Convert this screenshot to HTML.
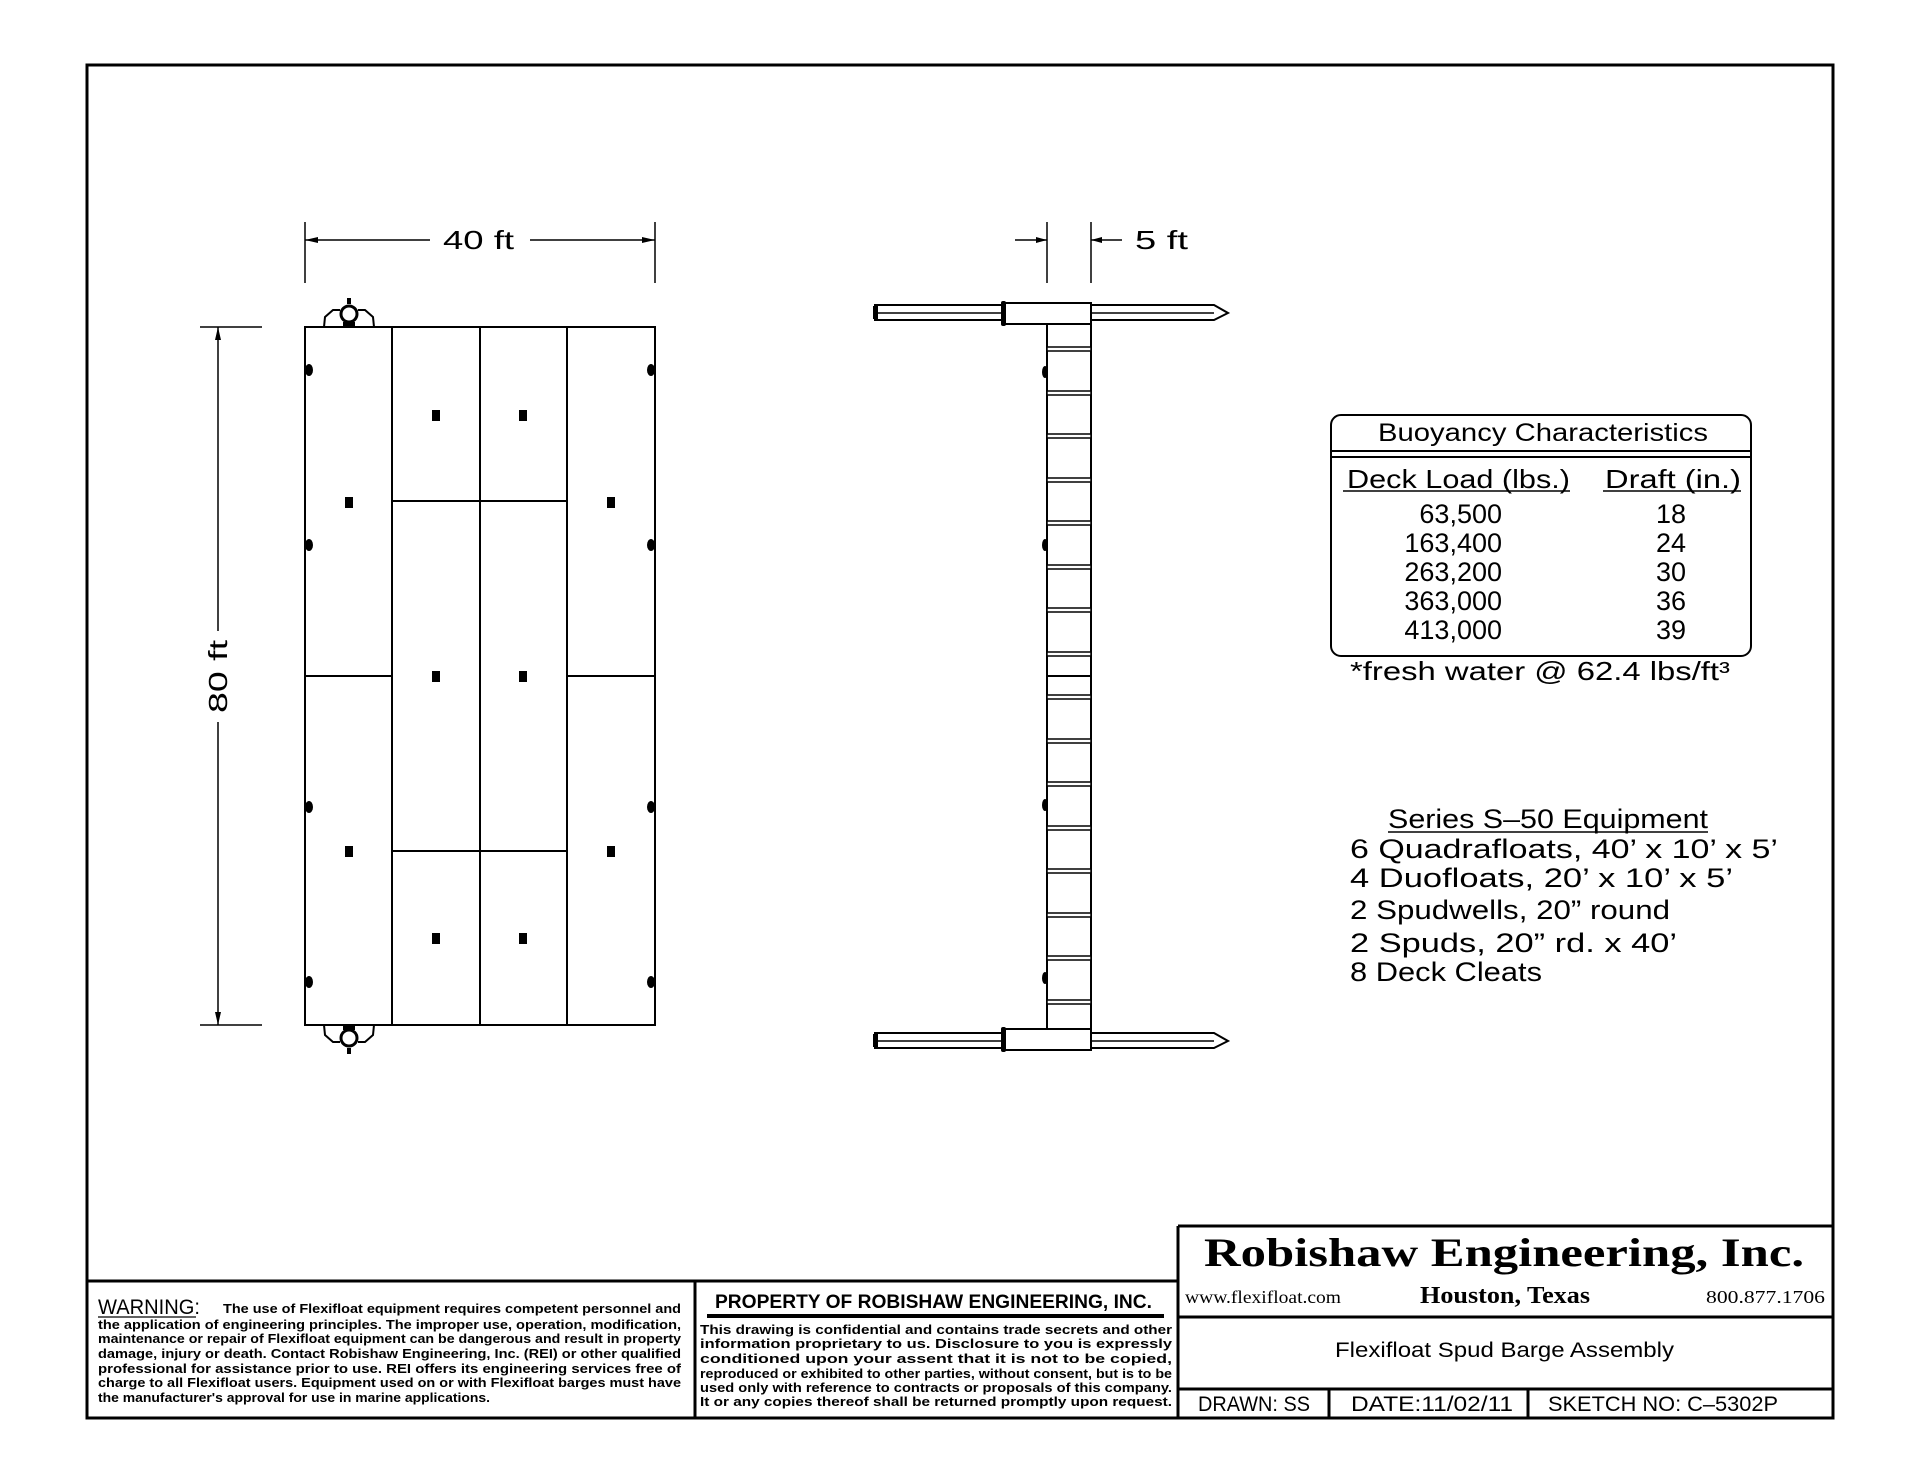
<!DOCTYPE html>
<html><head><meta charset="utf-8"><style>
html,body{margin:0;padding:0;background:#fff;}
svg{display:block;}
text{font-family:"Liberation Sans",sans-serif;fill:#000;}
</style></head><body>
<svg width="1920" height="1484" viewBox="0 0 1920 1484" xmlns="http://www.w3.org/2000/svg">
<rect x="0" y="0" width="1920" height="1484" fill="#fff"/>
<rect x="87" y="65" width="1746" height="1353" fill="none" stroke="#000" stroke-width="3"/>

<!-- ===== PLAN VIEW ===== -->
<g stroke="#000" stroke-width="2" fill="none">
<rect x="305" y="327" width="350" height="698"/>
<line x1="392" y1="327" x2="392" y2="1025"/>
<line x1="480" y1="327" x2="480" y2="1025"/>
<line x1="567" y1="327" x2="567" y2="1025"/>
<line x1="305" y1="676" x2="392" y2="676"/>
<line x1="567" y1="676" x2="655" y2="676"/>
<line x1="392" y1="501" x2="567" y2="501"/>
<line x1="392" y1="851" x2="567" y2="851"/>
<line x1="305" y1="222" x2="305" y2="283" stroke-width="1.5"/>
<line x1="655" y1="222" x2="655" y2="283" stroke-width="1.5"/>
<line x1="305" y1="240" x2="430" y2="240" stroke-width="1.5"/>
<line x1="530" y1="240" x2="655" y2="240" stroke-width="1.5"/>
<line x1="200" y1="327" x2="262" y2="327" stroke-width="1.5"/>
<line x1="200" y1="1025" x2="262" y2="1025" stroke-width="1.5"/>
<line x1="218" y1="327" x2="218" y2="631" stroke-width="1.5"/>
<line x1="218" y1="722" x2="218" y2="1025" stroke-width="1.5"/>
</g>
<g fill="#000">
<polygon points="305,240 318,237 318,243"/>
<polygon points="655,240 642,237 642,243"/>
<polygon points="218,327 215,340 221,340"/>
<polygon points="218,1025 215,1012 221,1012"/>
</g>
<text x="443" y="249" font-size="26" textLength="71" lengthAdjust="spacingAndGlyphs">40  ft</text>
<text transform="translate(227,713) rotate(-90)" font-size="26" textLength="73" lengthAdjust="spacingAndGlyphs">80  ft</text>
<g fill="#000">
<rect x="345" y="497" width="8" height="11"/><rect x="607" y="497" width="8" height="11"/>
<rect x="345" y="846" width="8" height="11"/><rect x="607" y="846" width="8" height="11"/>
<rect x="432" y="410" width="8" height="11"/><rect x="519" y="410" width="8" height="11"/>
<rect x="432" y="671" width="8" height="11"/><rect x="519" y="671" width="8" height="11"/>
<rect x="432" y="933" width="8" height="11"/><rect x="519" y="933" width="8" height="11"/>
</g>
<g fill="#000">
<ellipse cx="309" cy="370" rx="4" ry="6"/><ellipse cx="309" cy="545" rx="4" ry="6"/>
<ellipse cx="309" cy="807" rx="4" ry="6"/><ellipse cx="309" cy="982" rx="4" ry="6"/>
<ellipse cx="651" cy="370" rx="4" ry="6"/><ellipse cx="651" cy="545" rx="4" ry="6"/>
<ellipse cx="651" cy="807" rx="4" ry="6"/><ellipse cx="651" cy="982" rx="4" ry="6"/>
</g>
<g stroke="#000" stroke-width="2" fill="none">
<path d="M324,327 L325,317 L333,310 L340,310 M374,327 L373,317 L365,310 L358,310"/>
<circle cx="349" cy="314" r="8" stroke-width="3"/>
<path d="M324,1025 L325,1035 L333,1042 L340,1042 M374,1025 L373,1035 L365,1042 L358,1042"/>
<circle cx="349" cy="1038" r="8" stroke-width="3"/>
</g>
<g fill="#000"><rect x="347" y="298" width="4" height="6"/><rect x="343" y="322" width="12" height="5"/>
<rect x="347" y="1048" width="4" height="6"/><rect x="343" y="1025" width="12" height="5"/></g>

<!-- ===== SIDE VIEW ===== -->
<g stroke="#000" stroke-width="2" fill="none">
<line x1="1047" y1="222" x2="1047" y2="283" stroke-width="1.5"/>
<line x1="1091" y1="222" x2="1091" y2="283" stroke-width="1.5"/>
<line x1="1015" y1="240" x2="1047" y2="240" stroke-width="1.5"/>
<line x1="1091" y1="240" x2="1122" y2="240" stroke-width="1.5"/>
<path d="M875,305 L1214,305 L1228,313 L1214,320 L875,320 Z"/>
<line x1="875" y1="313" x2="1214" y2="313" stroke-width="1.5"/>
<rect x="1003" y="303" width="88" height="21" fill="#fff"/>
<path d="M875,1033 L1214,1033 L1228,1041 L1214,1048 L875,1048 Z"/>
<line x1="875" y1="1041" x2="1214" y2="1041" stroke-width="1.5"/>
<rect x="1003" y="1029" width="88" height="21" fill="#fff"/>
<rect x="1047" y="324" width="44" height="705"/>
<line x1="1047" y1="676" x2="1091" y2="676"/>
</g>
<g fill="#000">
<polygon points="1047,240 1036,237 1036,243"/>
<polygon points="1091,240 1102,237 1102,243"/>
<rect x="873" y="306" width="5" height="13"/><rect x="873" y="1034" width="5" height="13"/>
<rect x="1001" y="301" width="5" height="25" rx="2"/><rect x="1001" y="1027" width="5" height="25" rx="2"/>
<ellipse cx="1045" cy="372" rx="3" ry="6"/><ellipse cx="1045" cy="545" rx="3" ry="6"/>
<ellipse cx="1045" cy="805" rx="3" ry="6"/><ellipse cx="1045" cy="978" rx="3" ry="6"/>
</g>
<g fill="#fff" stroke="#000" stroke-width="1.5">
<rect x="1047" y="347" width="44" height="4"/><rect x="1047" y="391" width="44" height="4"/>
<rect x="1047" y="434" width="44" height="4"/><rect x="1047" y="478" width="44" height="4"/>
<rect x="1047" y="521" width="44" height="4"/><rect x="1047" y="565" width="44" height="4"/>
<rect x="1047" y="608" width="44" height="4"/><rect x="1047" y="652" width="44" height="4"/>
<rect x="1047" y="695" width="44" height="4"/><rect x="1047" y="739" width="44" height="4"/>
<rect x="1047" y="782" width="44" height="4"/><rect x="1047" y="826" width="44" height="4"/>
<rect x="1047" y="869" width="44" height="4"/><rect x="1047" y="913" width="44" height="4"/>
<rect x="1047" y="956" width="44" height="4"/><rect x="1047" y="1000" width="44" height="4"/>
</g>
<text x="1135" y="249" font-size="26" textLength="53" lengthAdjust="spacingAndGlyphs">5  ft</text>

<!-- ===== BUOYANCY TABLE ===== -->
<rect x="1331" y="415" width="420" height="241" rx="10" fill="none" stroke="#000" stroke-width="2"/>
<line x1="1331" y1="451" x2="1751" y2="451" stroke="#000" stroke-width="2"/>
<line x1="1331" y1="457" x2="1751" y2="457" stroke="#000" stroke-width="2"/>
<text x="1378" y="441" font-size="25" textLength="330" lengthAdjust="spacingAndGlyphs">Buoyancy Characteristics</text>
<text x="1347" y="488" font-size="26" textLength="223" lengthAdjust="spacingAndGlyphs">Deck Load (lbs.)</text>
<line x1="1343" y1="491" x2="1570" y2="491" stroke="#000" stroke-width="1.5"/>
<text x="1605" y="488" font-size="26" textLength="136" lengthAdjust="spacingAndGlyphs">Draft (in.)</text>
<line x1="1603" y1="491" x2="1741" y2="491" stroke="#000" stroke-width="1.5"/>
<g font-size="27" text-anchor="end">
<text x="1502" y="523">63,500</text><text x="1502" y="552">163,400</text>
<text x="1502" y="581">263,200</text><text x="1502" y="610">363,000</text>
<text x="1502" y="639">413,000</text>
</g>
<g font-size="27" text-anchor="middle">
<text x="1671" y="523">18</text><text x="1671" y="552">24</text>
<text x="1671" y="581">30</text><text x="1671" y="610">36</text>
<text x="1671" y="639">39</text>
</g>
<text x="1350" y="680" font-size="26" textLength="380" lengthAdjust="spacingAndGlyphs">*fresh water @ 62.4 lbs/ft³</text>

<!-- ===== EQUIPMENT ===== -->
<text x="1388" y="828" font-size="27" textLength="320" lengthAdjust="spacingAndGlyphs">Series S–50 Equipment</text>
<line x1="1388" y1="832" x2="1708" y2="832" stroke="#000" stroke-width="1.5"/>
<g font-size="27">
<text x="1350" y="858" textLength="428" lengthAdjust="spacingAndGlyphs">6 Quadrafloats, 40’ x 10’ x 5’</text>
<text x="1350" y="887" textLength="383" lengthAdjust="spacingAndGlyphs">4 Duofloats, 20’ x 10’ x 5’</text>
<text x="1350" y="919" textLength="320" lengthAdjust="spacingAndGlyphs">2 Spudwells, 20” round</text>
<text x="1350" y="952" textLength="327" lengthAdjust="spacingAndGlyphs">2 Spuds, 20” rd. x 40’</text>
<text x="1350" y="981" textLength="192" lengthAdjust="spacingAndGlyphs">8 Deck Cleats</text>
</g>

<!-- ===== TITLE BLOCK ===== -->
<g stroke="#000" stroke-width="3" fill="none">
<line x1="87" y1="1281" x2="1178" y2="1281"/>
<line x1="1178" y1="1226" x2="1833" y2="1226"/>
<line x1="1178" y1="1226" x2="1178" y2="1418"/>
<line x1="695" y1="1281" x2="695" y2="1418"/>
<line x1="1178" y1="1317" x2="1833" y2="1317"/>
<line x1="1178" y1="1389" x2="1833" y2="1389"/>
<line x1="1329" y1="1389" x2="1329" y2="1418"/>
<line x1="1528" y1="1389" x2="1528" y2="1418"/>
<line x1="707" y1="1316" x2="1164" y2="1316" stroke-width="4"/>
</g>
<text x="1204" y="1266" font-weight="bold" font-size="40" textLength="600" lengthAdjust="spacingAndGlyphs" style="font-family:'Liberation Serif',serif">Robishaw Engineering, Inc.</text>
<text x="1185" y="1303" font-size="18" textLength="156" lengthAdjust="spacingAndGlyphs" style="font-family:'Liberation Serif',serif">www.flexifloat.com</text>
<text x="1420" y="1303" font-size="24" font-weight="bold" textLength="170" lengthAdjust="spacingAndGlyphs" style="font-family:'Liberation Serif',serif">Houston, Texas</text>
<text x="1706" y="1303" font-size="18" textLength="119" lengthAdjust="spacingAndGlyphs" style="font-family:'Liberation Serif',serif">800.877.1706</text>
<text x="1335" y="1357" font-size="21" textLength="339" lengthAdjust="spacingAndGlyphs">Flexifloat Spud Barge Assembly</text>
<text x="1198" y="1411" font-size="21" textLength="112" lengthAdjust="spacingAndGlyphs">DRAWN: SS</text>
<text x="1351" y="1411" font-size="21" textLength="162" lengthAdjust="spacingAndGlyphs">DATE:11/02/11</text>
<text x="1548" y="1411" font-size="21" textLength="230" lengthAdjust="spacingAndGlyphs">SKETCH NO: C–5302P</text>

<text x="715" y="1308" font-size="19" font-weight="bold" textLength="437" lengthAdjust="spacingAndGlyphs">PROPERTY OF ROBISHAW ENGINEERING, INC.</text>
<g font-size="13" font-weight="bold">
<text x="700" y="1334" textLength="472" lengthAdjust="spacingAndGlyphs">This drawing is confidential and contains trade secrets and other</text>
<text x="700" y="1348" textLength="472" lengthAdjust="spacingAndGlyphs">information proprietary to us.  Disclosure to you is expressly</text>
<text x="700" y="1363" textLength="472" lengthAdjust="spacingAndGlyphs">conditioned upon your assent that it is not to be copied,</text>
<text x="700" y="1378" textLength="472" lengthAdjust="spacingAndGlyphs">reproduced or exhibited to other parties, without consent, but is to be</text>
<text x="700" y="1392" textLength="472" lengthAdjust="spacingAndGlyphs">used only with reference to contracts or proposals of this company.</text>
<text x="700" y="1406" textLength="472" lengthAdjust="spacingAndGlyphs">It or any copies thereof shall be returned promptly upon request.</text>
</g>
<text x="98" y="1314" font-size="21" textLength="102" lengthAdjust="spacingAndGlyphs">WARNING:</text>
<line x1="98" y1="1317" x2="196" y2="1317" stroke="#000" stroke-width="1.2"/>
<g font-size="13" font-weight="bold">
<text x="223" y="1313" textLength="458" lengthAdjust="spacingAndGlyphs">The use of Flexifloat equipment requires competent personnel and</text>
<text x="98" y="1329" textLength="583" lengthAdjust="spacingAndGlyphs">the application of engineering principles.  The improper use, operation, modification,</text>
<text x="98" y="1343" textLength="583" lengthAdjust="spacingAndGlyphs">maintenance or repair of Flexifloat equipment can be dangerous and result in property</text>
<text x="98" y="1358" textLength="583" lengthAdjust="spacingAndGlyphs">damage, injury or death.  Contact Robishaw Engineering, Inc. (REI) or other qualified</text>
<text x="98" y="1373" textLength="583" lengthAdjust="spacingAndGlyphs">professional for assistance prior to use.  REI offers its engineering services free of</text>
<text x="98" y="1387" textLength="583" lengthAdjust="spacingAndGlyphs">charge to all Flexifloat users. Equipment used on or with Flexifloat barges must have</text>
<text x="98" y="1402" textLength="392" lengthAdjust="spacingAndGlyphs">the manufacturer's approval for use in marine applications.</text>
</g>
</svg>
</body></html>
